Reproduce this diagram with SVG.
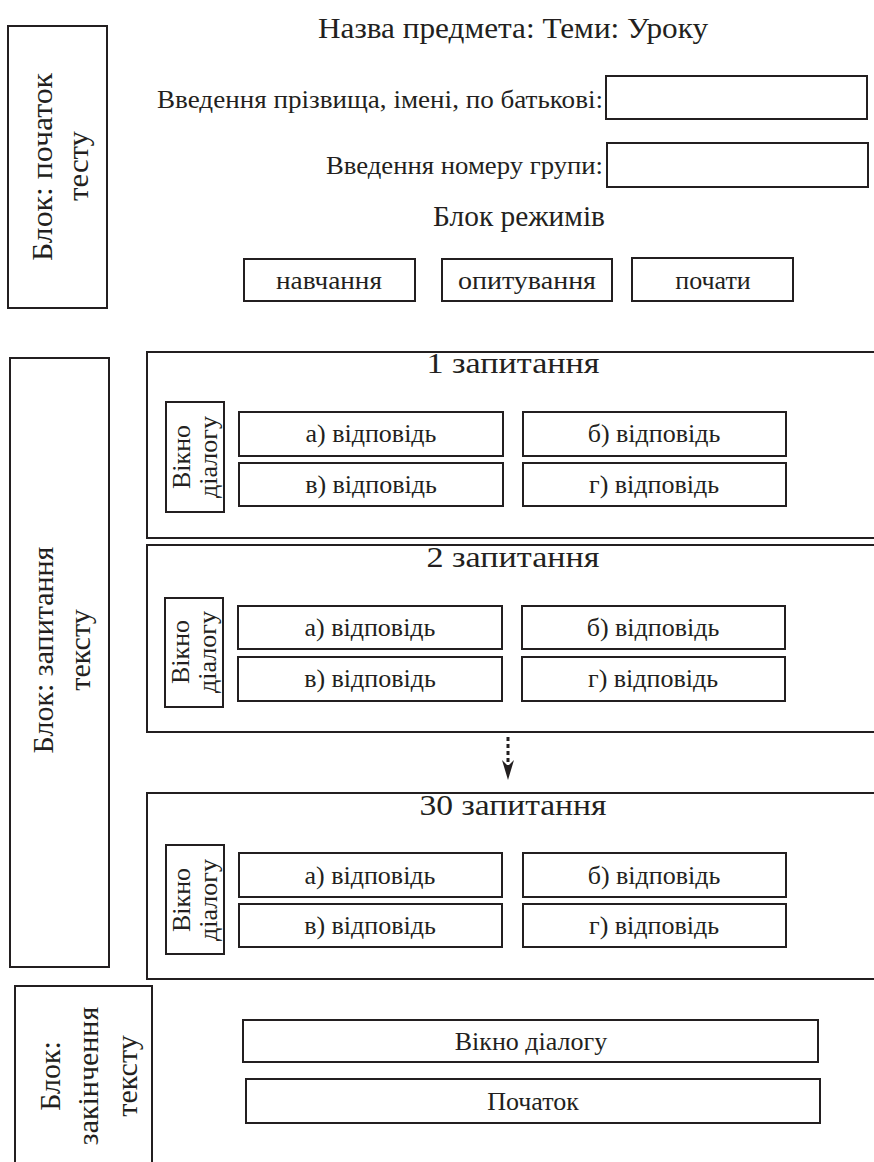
<svg xmlns="http://www.w3.org/2000/svg" width="874" height="1162" viewBox="0 0 874 1162">
<defs>
<style>
.b{fill:#fff;stroke:#231f20;stroke-width:2}
.o{fill:none;stroke:#231f20;stroke-width:2}
.t{font-family:'Liberation Serif','DejaVu Serif',serif;font-size:26px;fill:#231f20}
.c{text-anchor:middle}
.e{text-anchor:end}
.s{font-size:30px}
.h{font-size:29px}
</style>
<marker id="ah" viewBox="0 0 20 12" refX="6" refY="6" markerWidth="20" markerHeight="12" markerUnits="userSpaceOnUse" orient="auto">
<path d="M0,0 L20,6 L0,12 L6,6 Z" fill="#231f20"/>
</marker>
</defs>
<rect width="874" height="1162" fill="#fff"/>

<g id="block-start">
<rect class="b" x="8" y="26" width="99" height="282"/>
<text class="t s c" transform="translate(52,167) rotate(-90)" textLength="188" lengthAdjust="spacingAndGlyphs">Блок: початок</text>
<text class="t s c" transform="translate(88,166) rotate(-90)" textLength="70" lengthAdjust="spacingAndGlyphs">тесту</text>
</g>

<g id="title"><text class="t h c" x="513" y="38" textLength="390" lengthAdjust="spacingAndGlyphs">Назва предмета: Теми: Уроку</text></g>

<g id="input-name">
<text class="t e" x="603" y="108" textLength="446" lengthAdjust="spacingAndGlyphs">Введення прізвища, імені, по батькові:</text>
<rect class="b" x="606" y="76" width="261" height="43"/>
</g>
<g id="input-group">
<text class="t e" x="603" y="174" textLength="277" lengthAdjust="spacingAndGlyphs">Введення номеру групи:</text>
<rect class="b" x="607" y="143" width="261" height="44"/>
</g>
<g id="modes"><text class="t h c" x="519" y="226" textLength="172" lengthAdjust="spacingAndGlyphs">Блок режимів</text></g>
<g id="btn-learn"><rect class="b" x="244" y="259" width="171" height="42"/><text class="t c" x="329" y="289" textLength="106" lengthAdjust="spacingAndGlyphs">навчання</text></g>
<g id="btn-quiz"><rect class="b" x="442" y="259" width="170" height="42"/><text class="t c" x="527" y="289" textLength="138" lengthAdjust="spacingAndGlyphs">опитування</text></g>
<g id="btn-start"><rect class="b" x="632" y="258" width="161" height="43"/><text class="t c" x="713" y="289">почати</text></g>

<g id="block-questions">
<rect class="b" x="10" y="358" width="99" height="609"/>
<text class="t s c" transform="translate(53,650) rotate(-90)">Блок: запитання</text>
<text class="t s c" transform="translate(90,650) rotate(-90)">тексту</text>
</g>

<g id="q1">
<rect class="b" x="147" y="352" width="740" height="186"/>
<text class="t h c" x="513" y="373" textLength="173" lengthAdjust="spacingAndGlyphs">1 запитання</text>
<rect class="b" x="166" y="402" width="58" height="110"/>
<text class="t c" transform="translate(190,457) rotate(-90)">Вікно</text>
<text class="t c" transform="translate(217,457) rotate(-90)">діалогу</text>
<rect class="b" x="239" y="412" width="264" height="44"/><text class="t c" x="371" y="442">а) відповідь</text>
<rect class="b" x="239" y="463" width="264" height="43"/><text class="t c" x="371" y="493">в) відповідь</text>
<rect class="b" x="523" y="412" width="263" height="44"/><text class="t c" x="654" y="442">б) відповідь</text>
<rect class="b" x="523" y="463" width="263" height="43"/><text class="t c" x="654" y="493">г) відповідь</text>
</g>

<g id="q2">
<rect class="b" x="147" y="545" width="740" height="187"/>
<text class="t h c" x="513" y="567" textLength="173" lengthAdjust="spacingAndGlyphs">2 запитання</text>
<rect class="b" x="165" y="598" width="58" height="109"/>
<text class="t c" transform="translate(189,652) rotate(-90)">Вікно</text>
<text class="t c" transform="translate(216,652) rotate(-90)">діалогу</text>
<rect class="b" x="238" y="606" width="264" height="43"/><text class="t c" x="370" y="636">а) відповідь</text>
<rect class="b" x="238" y="657" width="264" height="44"/><text class="t c" x="370" y="687">в) відповідь</text>
<rect class="b" x="522" y="606" width="263" height="43"/><text class="t c" x="653" y="636">б) відповідь</text>
<rect class="b" x="522" y="657" width="263" height="44"/><text class="t c" x="653" y="687">г) відповідь</text>
</g>

<g id="q30">
<rect class="b" x="147" y="793" width="740" height="186"/>
<text class="t h c" x="513" y="815" textLength="187" lengthAdjust="spacingAndGlyphs">30 запитання</text>
<rect class="b" x="166" y="845" width="58" height="109"/>
<text class="t c" transform="translate(190,900) rotate(-90)">Вікно</text>
<text class="t c" transform="translate(217,900) rotate(-90)">діалогу</text>
<rect class="b" x="239" y="853" width="263" height="44"/><text class="t c" x="370" y="884">а) відповідь</text>
<rect class="b" x="239" y="904" width="263" height="43"/><text class="t c" x="370" y="934">в) відповідь</text>
<rect class="b" x="523" y="853" width="263" height="44"/><text class="t c" x="654" y="884">б) відповідь</text>
<rect class="b" x="523" y="904" width="263" height="43"/><text class="t c" x="654" y="934">г) відповідь</text>
</g>

<g id="block-end">
<path class="o" d="M15,1164 V986 H152 V1164"/>
<text class="t s c" transform="translate(60,1076) rotate(-90)">Блок:</text>
<text class="t s c" transform="translate(98,1076) rotate(-90)">закінчення</text>
<text class="t s c" transform="translate(137,1076) rotate(-90)">тексту</text>
</g>
<g id="end-dialog"><rect class="b" x="243" y="1020" width="575" height="42"/><text class="t c" x="531" y="1050">Вікно діалогу</text></g>
<g id="end-start"><rect class="b" x="246" y="1079" width="574" height="44"/><text class="t c" x="533" y="1110">Початок</text></g>

<g id="connectors">
<line x1="508" y1="737" x2="508" y2="766" stroke="#231f20" stroke-width="3" stroke-dasharray="4 3" marker-end="url(#ah)"/>
</g>
</svg>
